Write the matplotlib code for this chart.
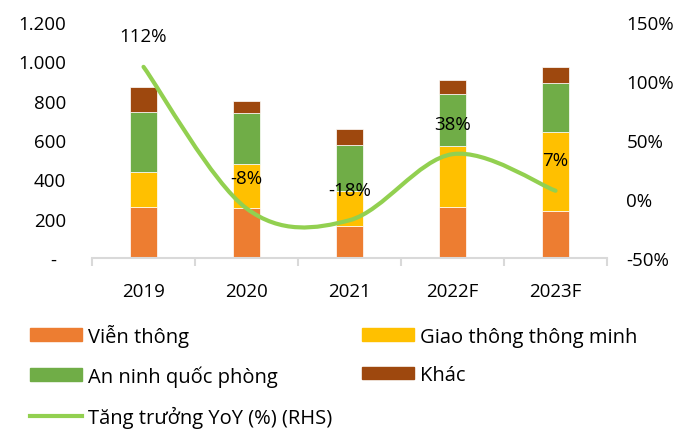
import numpy as np
import matplotlib.pyplot as plt
from matplotlib.path import Path
from matplotlib.patches import PathPatch, Patch
from matplotlib.lines import Line2D

plt.rcParams['font.family'] = ['Open Sans', 'DejaVu Sans']

# Data
years = ['2019', '2020', '2021', '2022F', '2023F']
vien_thong = [258, 253, 161, 258, 240]
giao_thong = [178, 225, 181, 310, 399]
an_ninh = [305, 258, 232, 266, 251]
khac = [130, 64, 82, 72, 79]
growth = [112, -8, -18, 38, 7]
growth_labels = ['112%', '-8%', '-18%', '38%', '7%']

left_ticks = [0, 200, 400, 600, 800, 1000, 1200]
left_tick_labels = ['-  ', '200', '400', '600', '800', '1.000', '1.200']
right_ticks = [-50, 0, 50, 100, 150]
right_tick_labels = ['-50%', '0%', '50%', '100%', '150%']

series = [
    (vien_thong, '#ED7D31', 'Viễn thông'),
    (giao_thong, '#FFC000', 'Giao thông thông minh'),
    (an_ninh, '#70AD47', 'An ninh quốc phòng'),
    (khac, '#9E480E', 'Khác'),
]
line_color = '#92D050'
line_name = 'Tăng trưởng YoY (%) (RHS)'
fs = 13.5
leg_fs = 14.5

fig = plt.figure(figsize=(6.95, 4.35), dpi=100)
ax = fig.add_axes([0.1324, 0.4046, 0.741, 0.5425])

x = np.arange(len(years))
bottom = np.zeros(len(years))
for vals, color, name in series:
    ax.bar(x, vals, 0.27, bottom=bottom, color=color, edgecolor='white', linewidth=0.5)
    bottom += np.array(vals)

ax.set_xlim(-0.5, len(years) - 0.5)
ax.set_ylim(0, 1200)
ax.set_yticks(left_ticks)
ax.set_yticklabels(left_tick_labels, fontsize=fs)
ax.tick_params(axis='y', length=0, pad=18.5)

# category boundaries as grey ticks, labels at centres
ax.set_xticks(np.arange(-0.5, len(years), 1.0))
ax.set_xticklabels([''] * (len(years) + 1))
ax.tick_params(axis='x', which='major', length=6, width=1.5, color='#d9d9d9')
ax.set_xticks(x, minor=True)
ax.set_xticklabels(years, minor=True, fontsize=fs)
ax.tick_params(axis='x', which='minor', length=0, pad=17)

for s in ['top', 'left', 'right']:
    ax.spines[s].set_visible(False)
ax.spines['bottom'].set_color('#d9d9d9')
ax.spines['bottom'].set_linewidth(1.5)

# right axis: smoothed growth line
ax2 = ax.twinx()
ax2.set_ylim(-50, 150)
ax2.set_yticks(right_ticks)
ax2.set_yticklabels(right_tick_labels, fontsize=fs)
ax2.tick_params(axis='y', length=0, pad=14)
for s in ax2.spines.values():
    s.set_visible(False)

g = np.array(growth, dtype=float)
verts = [(x[0], g[0])]
codes = [Path.MOVETO]
n = len(g)
for i in range(n - 1):
    p0 = g[i - 1] if i > 0 else g[i]
    p3 = g[i + 2] if i + 2 < n else g[i + 1]
    x0 = x[i - 1] if i > 0 else x[i]
    x3 = x[i + 2] if i + 2 < n else x[i + 1]
    c1 = (x[i] + (x[i + 1] - x0) / 6, g[i] + (g[i + 1] - p0) / 6)
    c2 = (x[i + 1] - (x3 - x[i]) / 6, g[i + 1] - (p3 - g[i]) / 6)
    verts += [c1, c2, (x[i + 1], g[i + 1])]
    codes += [Path.CURVE4] * 3
ax2.add_patch(PathPatch(Path(verts, codes), facecolor='none', edgecolor=line_color,
                        linewidth=3, capstyle='round'))

for xi, gi, lab in zip(x, growth, growth_labels):
    ax2.annotate(lab, (xi, gi), xytext=(0, 22), textcoords='offset points',
                 ha='center', va='center', fontsize=fs)

# legend
handles = [Patch(color=c) for _, c, _ in series]
lab = [nm for _, _, nm in series]
line_h = Line2D([], [], color=line_color, linewidth=3)
order_h = [handles[0], handles[2], line_h, handles[1], handles[3]]
order_l = [lab[0], lab[2], line_name, lab[1], lab[3]]
fig.legend(order_h, order_l, ncol=2, loc='upper left', bbox_to_anchor=(0.043, 0.254),
           frameon=False, fontsize=leg_fs, handlelength=2.57, handleheight=0.59,
           handletextpad=0.3, columnspacing=1.5, labelspacing=0.93, borderpad=0,
           borderaxespad=0)

fig.savefig('out.png', dpi=100)
